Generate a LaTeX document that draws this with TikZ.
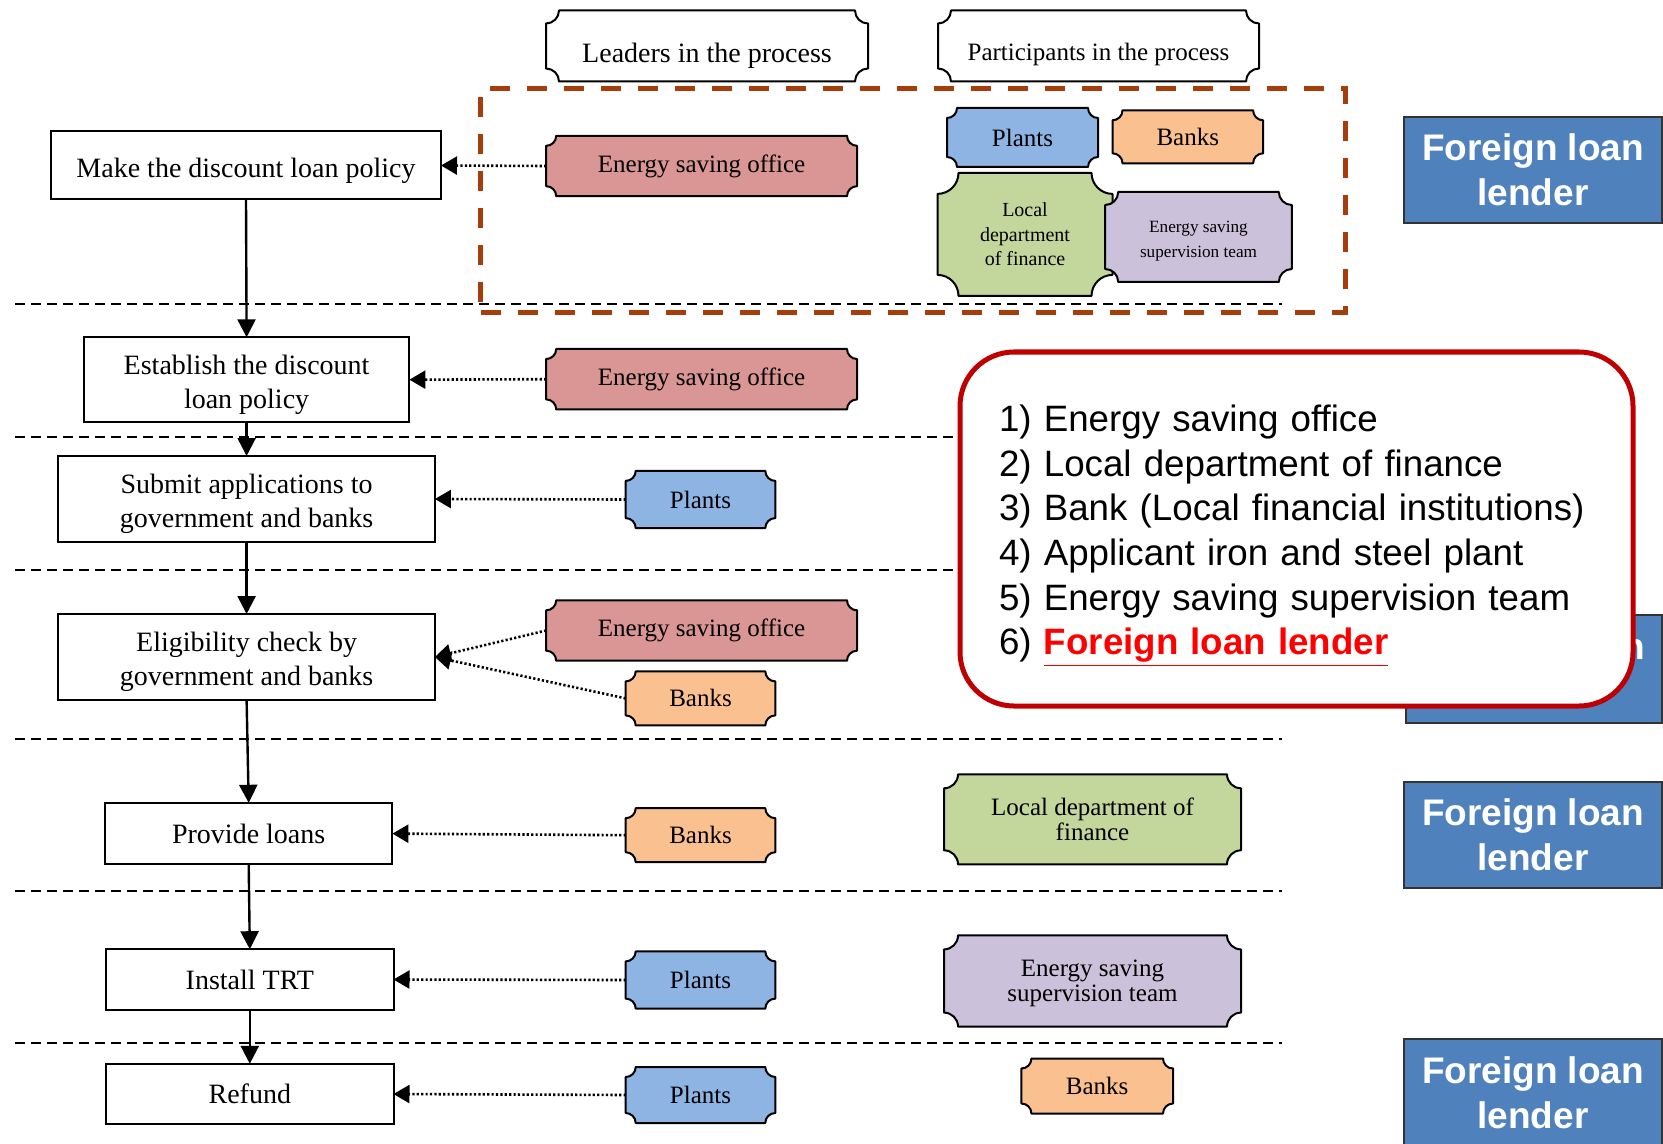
\documentclass[tikz,border=0pt]{standalone}
\usepackage{fontspec}
\setmainfont{Liberation Serif}
\newfontfamily\arialf{Liberation Sans}
\usetikzlibrary{arrows.meta}
\pgfdeclarelayer{bg}
\pgfsetlayers{bg,main}
\definecolor{pinkf}{RGB}{217,150,148}
\definecolor{bluef}{RGB}{142,180,227}
\definecolor{orangef}{RGB}{250,192,144}
\definecolor{greenf}{RGB}{195,214,155}
\definecolor{purplef}{RGB}{204,193,218}
\definecolor{boxblue}{RGB}{79,129,189}
\definecolor{brownd}{RGB}{165,62,10}
\definecolor{calred}{RGB}{192,0,0}
\newcommand\plq[3]{%
  \begin{pgfonlayer}{bg}
  \path[fill=#2,draw=black,line width=1pt,line join=round]
    ([xshift=#3]#1.north west) -- ([xshift=-#3]#1.north east)
    arc[start angle=180,end angle=270,radius=#3]
    -- ([yshift=#3]#1.south east)
    arc[start angle=90,end angle=180,radius=#3]
    -- ([xshift=#3]#1.south west)
    arc[start angle=0,end angle=90,radius=#3]
    -- ([yshift=-#3]#1.north west)
    arc[start angle=270,end angle=360,radius=#3] -- cycle;
  \end{pgfonlayer}}
\tikzset{
  stepbox/.style={draw,line width=1pt,fill=white,align=center,inner sep=0pt,outer sep=0pt,
    font=\fontsize{14}{17}\selectfont},
  lowtext/.style={text height=14.8pt},
  plaq/.style={align=center,inner sep=0pt,outer sep=0pt,font=\fontsize{12.5}{12.2}\selectfont},
  flow/.style={-{Triangle[length=9pt,width=9pt]},line width=1.2pt},
  dotarrow/.style={-{Triangle[length=8pt,width=9pt]},line width=1.3pt,dash pattern=on 1.1pt off 1.1pt},
  sepline/.style={line width=1pt,dash pattern=on 5pt off 3pt},
  groupbox/.style={draw=brownd,line width=2.5pt,dash pattern=on 10pt off 8.5pt,inner sep=0pt},
  bluebox/.style={fill=boxblue,draw=black!80,line width=0.8pt,text=white,align=center,inner sep=0pt,
    font=\arialf\bfseries\fontsize{18.5}{22.3}\selectfont},
  callout/.style={draw=calred,line width=2.5pt,rounded corners=27pt,fill=white,align=left,
    inner xsep=19.5pt,inner ysep=0pt,text height=20pt,font=\arialf\fontsize{18.35}{22.3}\selectfont}
}
\begin{document}
\begin{tikzpicture}[x=0.5pt,y=-0.5pt]
\useasboundingbox (0,0) rectangle (1663,1144);

% separator lines
\foreach \yy in {304.4,437,569.5,739.2,891,1042.6}
  \draw[sepline] (15,\yy) -- (1282,\yy);

% group box
\node[groupbox,minimum width=432.25pt,minimum height=112pt] (grp) at (912.75,201) {};

% headers
\node[plaq,font=\fontsize{14}{17}\selectfont,text height=19pt,minimum width=161pt,minimum height=35.5pt] (h1) at (707,46) {Leaders in the process};
\plq{h1}{white}{6.5pt}
\node[plaq,text height=17pt,minimum width=160.5pt,minimum height=35.5pt] (h2) at (1098.5,46) {Participants in the process};
\plq{h2}{white}{6.5pt}

% left process boxes
\node[stepbox,lowtext,minimum width=195pt,minimum height=34pt] (b1) at (246,165.5) {Make the discount loan policy};
\node[stepbox,lowtext,align=flush center,text width=160pt,minimum width=162.8pt,minimum height=42.4pt] (b2) at (246.6,379.7) {Establish the discount\\loan policy};
\node[stepbox,lowtext,align=flush center,text width=185pt,minimum width=188.3pt,minimum height=43pt] (b3) at (246.6,499) {Submit applications to\\government and banks};
\node[stepbox,lowtext,align=flush center,text width=185pt,minimum width=188.3pt,minimum height=43pt] (b4) at (246.6,657) {Eligibility check by\\government and banks};
\node[stepbox,minimum width=143.7pt,minimum height=30.8pt] (b5) at (248.7,833.6) {Provide loans};
\node[stepbox,minimum width=143.7pt,minimum height=30.3pt] (b6) at (249.8,979.5) {Install TRT};
\node[stepbox,minimum width=143.7pt,minimum height=30.2pt] (b7) at (249.8,1094) {Refund};

% leaders column
\node[plaq,minimum width=155.4pt,minimum height=30.2pt] (m1) at (701.6,166) {Energy saving office};
\plq{m1}{pinkf}{5pt}
\node[plaq,minimum width=155.4pt,minimum height=30.2pt] (m2) at (701.6,379.2) {Energy saving office};
\plq{m2}{pinkf}{5pt}
\node[plaq,minimum width=74.8pt,minimum height=28.6pt] (m3) at (700.5,499.5) {Plants};
\plq{m3}{bluef}{5pt}
\node[plaq,minimum width=155.4pt,minimum height=30.2pt] (m4) at (701.6,630.5) {Energy saving office};
\plq{m4}{pinkf}{5pt}
\node[plaq,minimum width=74.8pt,minimum height=27pt] (m5) at (700.5,698.4) {Banks};
\plq{m5}{orangef}{5pt}
\node[plaq,minimum width=74.8pt,minimum height=27pt] (m6) at (700.5,835.2) {Banks};
\plq{m6}{orangef}{5pt}
\node[plaq,minimum width=74.8pt,minimum height=28.6pt] (m7) at (700.5,980) {Plants};
\plq{m7}{bluef}{5pt}
\node[plaq,minimum width=74.8pt,minimum height=28pt] (m8) at (700.5,1095) {Plants};
\plq{m8}{bluef}{5pt}

% participants column
\node[plaq,minimum width=75.5pt,minimum height=29.5pt] (p1) at (1022.5,137.5) {Plants};
\plq{p1}{bluef}{5pt}
\node[plaq,minimum width=75.3pt,minimum height=26.5pt] (p2) at (1187.8,136.8) {Banks};
\plq{p2}{orangef}{5pt}
\node[plaq,font=\fontsize{10}{12.2}\selectfont,minimum width=87.5pt,minimum height=61.5pt] (p3) at (1025,234.4) {Local\\department\\of finance};
\plq{p3}{greenf}{10.5pt}
\node[plaq,align=flush center,font=\fontsize{8.6}{12.3}\selectfont,text width=90pt,text height=10.1pt,minimum width=93.3pt,minimum height=45pt] (p4) at (1198.5,237) {Energy saving\\supervision team};
\plq{p4}{purplef}{6.5pt}
\node[plaq,minimum width=148.5pt,minimum height=45pt] (p5) at (1092.5,819.3) {Local department of\\finance};
\plq{p5}{greenf}{7pt}
\node[plaq,align=flush center,text width=145pt,text height=10.6pt,minimum width=148.5pt,minimum height=45.6pt] (p6) at (1092.5,981) {Energy saving\\supervision team};
\plq{p6}{purplef}{7pt}
\node[plaq,minimum width=75.8pt,minimum height=27.5pt] (p7) at (1097.2,1086) {Banks};
\plq{p7}{orangef}{5pt}

% flow arrows
\draw[flow] (b1.south) -- (b2.north);
\draw[flow] (b2.south) -- (b3.north);
\draw[flow] (b3.south) -- (b4.north);
\draw[flow] (b4.south) -- (b5.north);
\draw[flow] (b5.south) -- (b6.north);
\draw[flow] (b6.south) -- (b7.north);

% dotted arrows
\draw[dotarrow] (m1.west) -- (b1.east);
\draw[dotarrow] (m2.west) -- (b2.east);
\draw[dotarrow] (m3.west) -- (b3.east);
\draw[dotarrow] (m4.west) -- (b4.east);
\draw[dotarrow] (m5.west) -- (b4.east);
\draw[dotarrow] (m6.west) -- (b5.east);
\draw[dotarrow] (m7.west) -- (b6.east);
\draw[dotarrow] (m8.west) -- (b7.east);

% foreign loan lender boxes
\node[bluebox,minimum width=129pt,minimum height=53pt] (f1) at (1533,170) {Foreign loan\\lender};
\node[bluebox,minimum width=128pt,minimum height=54pt] (f2) at (1534,669) {Foreign loan\\lender};
\node[bluebox,minimum width=129pt,minimum height=53pt] (f3) at (1533,835) {Foreign loan\\lender};
\node[bluebox,minimum width=129pt,minimum height=54pt] (f4) at (1533,1093) {Foreign loan\\lender};

% callout
\node[callout,text width=297.5pt,minimum height=177pt] (call) at (1296.5,529) {1) Energy saving office\\
2) Local department of finance\\
3) Bank (Local financial institutions)\\
4) Applicant iron and steel plant\\
5) Energy saving supervision team\\
6) \textcolor{red}{\underline{\textbf{Foreign loan lender}}}};
\end{tikzpicture}
\end{document}
